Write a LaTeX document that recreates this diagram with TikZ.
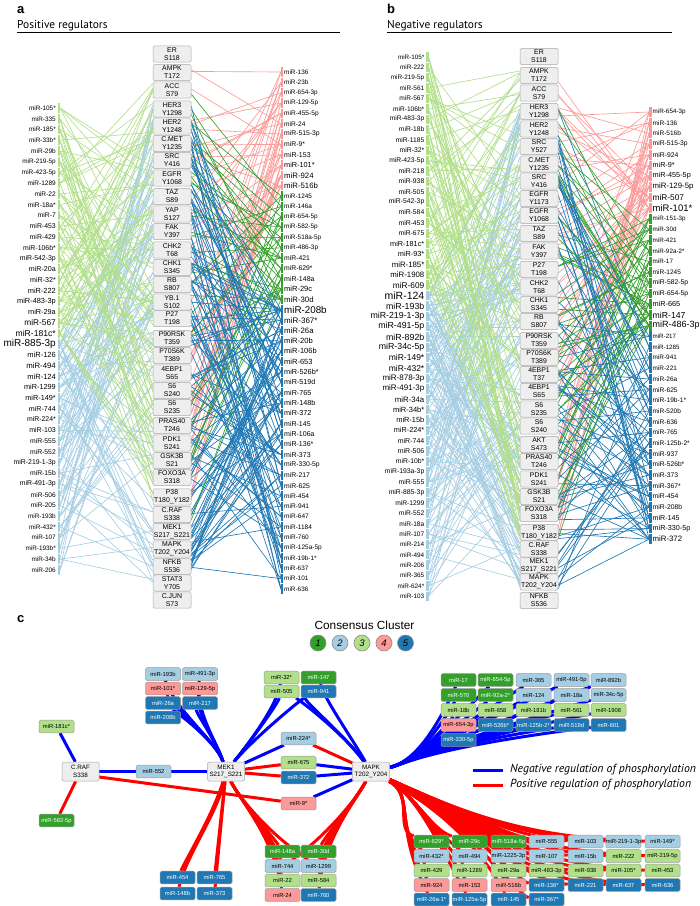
\documentclass[tikz,border=0pt]{standalone}
\usepackage{fontspec}
\setmainfont{Liberation Sans}
\newfontfamily\ttlfont{PT Sans}
\pgfdeclarelayer{bg}
\pgfsetlayers{bg,main}
\definecolor{cA}{HTML}{33A02C}
\definecolor{cB}{HTML}{A6CEE3}
\definecolor{cC}{HTML}{B2DF8A}
\definecolor{cD}{HTML}{FB9A99}
\definecolor{cE}{HTML}{1F78B4}
\definecolor{boxfl}{HTML}{EEEEEE}
\definecolor{boxln}{HTML}{A8A8A8}
\definecolor{negc}{HTML}{0000FF}
\definecolor{posc}{HTML}{FF0000}
\colorlet{cc1}{cA}\colorlet{cc2}{cB}\colorlet{cc3}{cC}\colorlet{cc4}{cD}\colorlet{cc5}{cE}
\colorlet{tc1}{white}\colorlet{tc2}{black}\colorlet{tc3}{black}\colorlet{tc4}{black}\colorlet{tc5}{white}
% ---- lists ----
\def\aKin{1/ER/S118/54, 2/AMPK/T172/72.5, 3/ACC/S79/90, 4/HER3/Y1298/109, 5/HER2/Y1248/126, 6/C.MET/Y1235/143.5, 7/SRC/Y416/160.5, 8/EGFR/Y1068/178, 9/TAZ/S89/196.5, 10/YAP/S127/214, 11/FAK/Y397/231.5, 12/CHK2/T68/250, 13/CHK1/S345/267.5, 14/RB/S807/284.5, 15/YB.1/S102/302, 16/P27/T198/318.5, 17/P90RSK/T359/338.5, 18/P70S6K/T389/355.5, 19/4EBP1/S65/373, 20/S6/S240/390.5, 21/S6/S235/407.5, 22/PRAS40/T246/425.5, 23/PDK1/S241/443, 24/GSK3B/S21/460.5, 25/FOXO3A/S318/477.5, 26/P38/T180\_Y182/497, 27/C.RAF/S338/514.5, 28/MEK1/S217\_S221/531.5, 29/MAPK/T202\_Y204/549, 30/NFKB/S536/566.5, 31/STAT3/Y705/583, 32/C.JUN/S73/600}
\def\bKin{1/ER/S118/56.5, 2/AMPK/T172/75.5, 3/ACC/S79/93, 4/HER3/Y1298/111.5, 5/HER2/Y1248/129, 6/SRC/Y527/146.5, 7/C.MET/Y1235/164, 8/SRC/Y416/181, 9/EGFR/Y1173/198.5, 10/EGFR/Y1068/215.5, 11/TAZ/S89/233.5, 12/FAK/Y397/251, 13/P27/T198/269.5, 14/CHK2/T68/287, 15/CHK1/S345/304.5, 16/RB/S807/321.5, 17/P90RSK/T359/340.5, 18/P70S6K/T389/357.5, 19/4EBP1/T37/374.5, 20/4EBP1/S65/391.5, 21/S6/S235/409, 22/S6/S240/426, 23/AKT/S473/444.5, 24/PRAS40/T246/461.5, 25/PDK1/S241/479, 26/GSK3B/S21/496.5, 27/FOXO3A/S318/513.5, 28/P38/T180\_Y182/532.5, 29/C.RAF/S338/549, 30/MEK1/S217\_S221/565.5, 31/MAPK/T202\_Y204/582, 32/NFKB/S536/600.5}
\def\aLB{miR-885-3p/10/12, miR-126/7.5/6, miR-494/7.8/7, miR-124/7.5/6, miR-1299/7.3/6, miR-149*/7.3/6, miR-744/7.1/5, miR-224*/6.9/5, miR-103/7/5, miR-555/6.8/5, miR-552/6.8/5, miR-219-1-3p/6.9/5, miR-15b/6.8/4, miR-491-3p/6.9/5, miR-506/6.6/4, miR-205/6.6/4, miR-193b/6.4/4, miR-432*/6.4/4, miR-107/6.4/4, miR-193b*/6.4/3, miR-34b/6.4/3, miR-206/6.4/3}
\def\aLG{miR-105*/6.4/4, miR-335/6.4/4, miR-185*/6.4/4, miR-33b*/6.4/4, miR-29b/6.5/4, miR-219-5p/6.4/4, miR-423-5p/6.5/4, miR-1289/6.5/4, miR-22/6.6/4, miR-18a*/6.7/4, miR-7/6.8/4, miR-453/6.9/5, miR-429/6.9/5, miR-106b*/6.9/5, miR-542-3p/6.9/5, miR-20a/7.1/5, miR-32*/7.1/5, miR-222/7.4/6, miR-483-3p/7.4/6, miR-29a/7.3/6, miR-567/8.3/8, miR-181c*/8.6/9}
\def\aRR{miR-136/6.4/3, miR-23b/6.4/3, miR-654-3p/6.4/3, miR-129-5p/6.5/4, miR-455-5p/6.6/4, miR-24/6.6/4, miR-515-3p/6.8/4, miR-9*/6.8/4, miR-153/7/4, miR-101*/7.3/5, miR-924/7.8/6, miR-516b/7.8/6}
\def\aRG{miR-1245/6.4/3, miR-146a/6.4/3, miR-654-5p/6.4/4, miR-582-5p/6.4/4, miR-518a-5p/6.4/4, miR-486-3p/6.5/4, miR-421/6.8/4, miR-629*/6.8/4, miR-148a/7/5, miR-29c/7.5/5, miR-30d/7.8/6}
\def\aRB{miR-208b/9.8/12, miR-367*/8/7, miR-26a/7.8/6, miR-20b/7.6/6, miR-106b/7.5/5, miR-653/7.5/5, miR-526b*/7.3/5, miR-519d/7.2/5, miR-765/7.2/5, miR-148b/7.2/5, miR-372/7.2/5, miR-145/7/5, miR-106a/7/5, miR-136*/7/4, miR-373/7/4, miR-330-5p/6.8/4, miR-217/6.8/4, miR-625/6.8/4, miR-454/6.6/3, miR-941/6.6/3, miR-647/6.5/3, miR-1184/6.5/3, miR-760/6.5/3, miR-125a-5p/6.5/3, miR-19b-1*/6.4/3, miR-637/6.4/3, miR-101/6.4/3, miR-636/6.4/3}
\def\bLB{miR-124/10.5/12, miR-193b/8.8/9, miR-219-1-3p/8.8/9, miR-491-5p/8.8/9, miR-892b/8.8/9, miR-34c-5p/8.8/9, miR-149*/8.5/8, miR-432*/8.5/8, miR-878-3p/8/7, miR-491-3p/8/7, miR-34a/7.8/7, miR-34b*/7.5/6, miR-15b/7.4/6, miR-224*/7.3/6, miR-744/7/5, miR-506/7/5, miR-10b*/6.8/5, miR-193a-3p/6.8/5, miR-555/6.8/5, miR-885-3p/6.8/5, miR-1299/6.7/4, miR-552/6.7/4, miR-18a/6.6/4, miR-107/6.6/4, miR-214/6.4/3, miR-494/6.4/3, miR-206/6.4/3, miR-365/6.4/3, miR-624*/6.4/3, miR-103/6.4/3}
\def\bLG{miR-105*/6.3/4, miR-222/6.4/4, miR-219-5p/6.4/4, miR-561/6.5/4, miR-567/6.6/4, miR-106b*/6.6/4, miR-483-3p/6.6/4, miR-18b/6.7/4, miR-1185/6.7/4, miR-32*/6.8/4, miR-423-5p/6.7/4, miR-218/6.8/4, miR-938/6.8/4, miR-505/6.8/4, miR-542-3p/6.8/5, miR-584/6.8/5, miR-453/6.8/5, miR-675/6.8/5, miR-181c*/7.3/5, miR-93*/7.3/5, miR-185*/7.8/6, miR-1908/7.8/6, miR-609/8.3/7}
\def\bRR{miR-654-3p/6.3/4, miR-136/6.5/4, miR-516b/6.5/4, miR-515-3p/6.7/4, miR-924/6.8/5, miR-9*/7.2/5, miR-455-5p/7.3/6, miR-129-5p/7.8/6, miR-507/8.3/7, miR-101*/9.5/9}
\def\bRG{miR-151-3p/6.3/4, miR-30d/6.3/4, miR-421/6.3/4, miR-92a-2*/6.3/4, miR-17/6.3/4, miR-1245/6.5/4, miR-582-5p/6.8/5, miR-654-5p/6.8/5, miR-665/7.3/6, miR-147/8.7/9, miR-486-3p/9/10}
\def\bRB{miR-217/6.2/3, miR-1285/6.2/3, miR-941/6.4/3, miR-221/6.4/3, miR-26a/6.5/4, miR-625/6.6/4, miR-19b-1*/6.6/4, miR-520b/6.5/4, miR-636/6.6/4, miR-765/6.6/4, miR-125b-2*/6.6/4, miR-937/6.7/4, miR-526b*/6.7/4, miR-373/6.7/4, miR-367*/6.7/4, miR-454/6.8/4, miR-208b/6.8/5, miR-145/7.1/5, miR-330-5p/7.2/6, miR-372/7.8/7}
\def\cTL{tl1/163/674/2/miR-193b, tl2/200/674/2/miR-491-3p, tl3/163/688.5/4/miR-101*, tl4/200/688.5/4/miR-129-5p, tl5/163/703/5/miR-26a, tl6/200/703/5/miR-217, tl7/163/717.5/5/miR-208b}
\def\cUR{ur1/458.5/680/1/miR-17, ur2/458.5/695/1/miR-570, ur3/458.5/710/3/miR-18b, ur4/458.5/725/4/miR-654-3p, ur5/458.5/740/5/miR-330-5p, ur6/495.5/680/1/miR-654-5p, ur7/495.5/695/1/miR-92a-2*, ur8/495.5/710/3/miR-658, ur9/495.5/725/5/miR-526b*, ur10/533.5/680/2/miR-365, ur11/533.5/695/2/miR-124, ur12/533.5/710/3/miR-181b, ur13/533.5/725/5/miR-125b-2*, ur14/571.5/680/2/miR-491-5p, ur15/571.5/695/2/miR-18a, ur16/571.5/710/3/miR-561, ur17/571.5/725/5/miR-519d, ur18/608.5/680/2/miR-892b, ur19/608.5/695/2/miR-34c-5p, ur20/608.5/710/3/miR-1908, ur21/608.5/725/5/miR-601}
\def\cQ{q1/431.5/841.5/1/miR-629*, q2/431.5/856/2/miR-432*, q3/431.5/870.5/3/miR-429, q4/431.5/885/4/miR-924, q5/431.5/899.5/5/miR-26a-1*, q6/469.5/841.5/1/miR-29c, q7/469.5/856/2/miR-494, q8/469.5/870.5/3/miR-1289, q9/469.5/885/4/miR-153, q10/469.5/899.5/5/miR-125a-5p, q11/508.5/841.5/1/miR-518a-5p, q12/508.5/856/2/miR-1225-3p, q13/508.5/870.5/3/miR-29a, q14/508.5/885/4/miR-516b, q15/508.5/899.5/5/miR-145, q16/546.5/841.5/2/miR-555, q17/546.5/856/2/miR-107, q18/546.5/870.5/3/miR-483-3p, q19/546.5/885/5/miR-136*, q20/546.5/899.5/5/miR-367*, q21/585.5/841.5/2/miR-103, q22/585.5/856/2/miR-15b, q23/585.5/870.5/3/miR-938, q24/585.5/885/5/miR-221, q25/623.5/841.5/2/miR-219-1-3p, q26/623.5/856/3/miR-222, q27/623.5/870.5/3/miR-105*, q28/623.5/885/5/miR-637, q29/662.5/841.5/2/miR-149*, q30/662.5/856/3/miR-219-5p, q31/662.5/870.5/3/miR-453, q32/662.5/885/5/miR-636}
\begin{document}
\begin{tikzpicture}[x=1pt,y=-1pt,
  kin/.style={draw=boxln, fill=boxfl, rounded corners=1.5pt, minimum width=38pt, minimum height=16.3pt, inner sep=0pt, align=center, font=\fontsize{6.9}{7.8}\selectfont, line width=0.5pt},
  hub/.style={kin, minimum width=37pt, minimum height=19pt, font=\fontsize{6.3}{7.6}\selectfont},
  lab/.style={inner sep=0pt},
  lnk/.style={line width=0.65pt},
  cbox/.style={draw=black!40, rounded corners=1.5pt, minimum width=35pt, minimum height=12.8pt, inner sep=0pt, font=\fontsize{5.8}{6}\selectfont, line width=0.5pt},
  cl/.style={cbox, fill=cc#1, text=tc#1},
  negreg/.style={draw=negc, line width=3pt},
  posreg/.style={draw=posc, line width=3pt},
  clus/.style={circle, draw=black!45, line width=0.6pt, minimum size=16pt, inner sep=0pt, font=\fontsize{9.5}{9.5}\selectfont\itshape},
  ]
\useasboundingbox (0,0) rectangle (700,906);
\pgfmathsetseed{7}

% ---------- headers ----------
\node[anchor=base west, inner sep=0pt, font=\fontsize{13}{13}\selectfont\bfseries] (la) at (17,13.3) {a};
\node[anchor=base west, inner sep=0pt, font=\ttlfont\fontsize{11.4}{12}\selectfont] (ta) at (17,28.5) {Positive regulators};
\draw[line width=0.8pt] (17,32) -- (340,32);
\node[anchor=base west, inner sep=0pt, font=\fontsize{13}{13}\selectfont\bfseries] (lb) at (387,13.3) {b};
\node[anchor=base west, inner sep=0pt, font=\ttlfont\fontsize{11.4}{12}\selectfont] (tb) at (387,28.5) {Negative regulators};
\draw[line width=0.8pt] (387,32) -- (672,32);

% ---------- nodes of panels a and b ----------
\foreach \n/\ta/\tb/\y in \aKin \node[kin] (pa\n) at (172,\y) {\ta\\\tb};
\foreach \n/\ta/\tb/\y in \bKin \node[kin] (pb\n) at (539,\y) {\ta\\\tb};

\foreach \t/\s/\d [count=\i from 23] in \aLB {
  \pgfmathsetmacro\yy{108+(\i-1)*10.74}
  \node[lab, anchor=east, font=\fontsize{\s}{\s}\selectfont] (al\i) at (56,\yy) {\t};
  \fill[cB] ([xshift=1.5pt,yshift=-4.9pt]al\i.east) rectangle ([xshift=4pt,yshift=4.9pt]al\i.east);}
\foreach \t/\s/\d [count=\i from 1] in \aLG {
  \pgfmathsetmacro\yy{108+(\i-1)*10.74}
  \node[lab, anchor=east, font=\fontsize{\s}{\s}\selectfont] (al\i) at (56,\yy) {\t};
  \fill[cC] ([xshift=1.5pt,yshift=-4.9pt]al\i.east) rectangle ([xshift=4pt,yshift=4.9pt]al\i.east);}
\foreach \t/\s/\d [count=\i from 1] in \aRR {
  \pgfmathsetmacro\yy{72+(\i-1)*10.34}
  \node[lab, anchor=west, font=\fontsize{\s}{\s}\selectfont] (ar\i) at (284,\yy) {\t};
  \fill[cD] ([xshift=-3pt,yshift=-4.7pt]ar\i.west) rectangle ([xshift=-0.6pt,yshift=4.7pt]ar\i.west);}
\foreach \t/\s/\d [count=\i from 13] in \aRG {
  \pgfmathsetmacro\yy{72+(\i-1)*10.34}
  \node[lab, anchor=west, font=\fontsize{\s}{\s}\selectfont] (ar\i) at (284,\yy) {\t};
  \fill[cA] ([xshift=-3pt,yshift=-4.7pt]ar\i.west) rectangle ([xshift=-0.6pt,yshift=4.7pt]ar\i.west);}
\foreach \t/\s/\d [count=\i from 24] in \aRB {
  \pgfmathsetmacro\yy{72+(\i-1)*10.34}
  \node[lab, anchor=west, font=\fontsize{\s}{\s}\selectfont] (ar\i) at (284,\yy) {\t};
  \fill[cE] ([xshift=-3pt,yshift=-4.7pt]ar\i.west) rectangle ([xshift=-0.6pt,yshift=4.7pt]ar\i.west);}

\foreach \t/\s/\d [count=\i from 24] in \bLB {
  \pgfmathsetmacro\yy{57+(\i-1)*10.37}
  \node[lab, anchor=east, font=\fontsize{\s}{\s}\selectfont] (bl\i) at (424.5,\yy) {\t};
  \fill[cB] ([xshift=1.5pt,yshift=-4.7pt]bl\i.east) rectangle ([xshift=4pt,yshift=4.7pt]bl\i.east);}
\foreach \t/\s/\d [count=\i from 1] in \bLG {
  \pgfmathsetmacro\yy{57+(\i-1)*10.37}
  \node[lab, anchor=east, font=\fontsize{\s}{\s}\selectfont] (bl\i) at (424.5,\yy) {\t};
  \fill[cC] ([xshift=1.5pt,yshift=-4.7pt]bl\i.east) rectangle ([xshift=4pt,yshift=4.7pt]bl\i.east);}
\foreach \t/\s/\d [count=\i from 1] in \bRR {
  \pgfmathsetmacro\yy{112+(\i-1)*10.68}
  \node[lab, anchor=west, font=\fontsize{\s}{\s}\selectfont] (br\i) at (652.5,\yy) {\t};
  \fill[cD] ([xshift=-3.5pt,yshift=-4.9pt]br\i.west) rectangle ([xshift=-1pt,yshift=4.9pt]br\i.west);}
\foreach \t/\s/\d [count=\i from 11] in \bRG {
  \pgfmathsetmacro\yy{112+(\i-1)*10.68}
  \node[lab, anchor=west, font=\fontsize{\s}{\s}\selectfont] (br\i) at (652.5,\yy) {\t};
  \fill[cA] ([xshift=-3.5pt,yshift=-4.9pt]br\i.west) rectangle ([xshift=-1pt,yshift=4.9pt]br\i.west);}
\foreach \t/\s/\d [count=\i from 22] in \bRB {
  \pgfmathsetmacro\yy{112+(\i-1)*10.68}
  \node[lab, anchor=west, font=\fontsize{\s}{\s}\selectfont] (br\i) at (652.5,\yy) {\t};
  \fill[cE] ([xshift=-3.5pt,yshift=-4.9pt]br\i.west) rectangle ([xshift=-1pt,yshift=4.9pt]br\i.west);}

% ---------- panel c nodes ----------
\node[anchor=base west, inner sep=0pt, font=\fontsize{13}{13}\selectfont\bfseries] (lc) at (17,622) {c};
\node[inner sep=0pt, font=\fontsize{11.8}{12}\selectfont] (cct) at (364.5,625) {Consensus Cluster};
\node[clus, fill=cA] (k1) at (318,643) {1};
\node[clus, fill=cB] (k2) at (340,643) {2};
\node[clus, fill=cC] (k3) at (362,643) {3};
\node[clus, fill=cD] (k4) at (384,643) {4};
\node[clus, fill=cE] (k5) at (405.5,643) {5};

\node[hub] (craf) at (80.5,771.5) {C.RAF\\S338};
\node[hub] (mek) at (226,771.5) {MEK1\\S217\_S221};
\node[hub] (mapk) at (371,771.5) {MAPK\\T202\_Y204};

\node[cl=3] (m181) at (56.5,726.5) {miR-181c*};
\node[cl=1] (m582) at (56.5,820.5) {miR-582-5p};
\node[cl=2] (m552) at (153.5,771.5) {miR-552};
\node[cl=2] (m224) at (298.5,738.5) {miR-224*};
\node[cl=3] (m675) at (298.5,762.5) {miR-675};
\node[cl=5] (m372) at (298.5,777.5) {miR-372};
\node[cl=4] (m9) at (298.5,803.5) {miR-9*};

\foreach \nm/\x/\y/\c/\t in \cTL \node[cl=\c] (\nm) at (\x,\y) {\t};
\foreach \nm/\x/\y/\c/\t in {tm1/281.5/677.5/3/miR-32*, tm2/318.5/677.5/1/miR-147, tm3/281.5/691.5/3/miR-505, tm4/318.5/691.5/5/miR-941}
  \node[cl=\c] (\nm) at (\x,\y) {\t};
\foreach \nm/\x/\y/\c/\t in {lo1/177.5/877.5/5/miR-454, lo2/214.5/877.5/5/miR-765, lo3/177.5/893.5/5/miR-148b, lo4/214.5/893.5/5/miR-373}
  \node[cl=\c] (\nm) at (\x,\y) {\t};
\foreach \nm/\x/\y/\c/\t in {bm1/282.5/851.5/1/miR-148a, bm2/318.5/851.5/1/miR-30d, bm3/282.5/866/2/miR-744, bm4/318.5/866/2/miR-1299, bm5/282.5/880.5/3/miR-22, bm6/318.5/880.5/3/miR-584, bm7/282.5/895/4/miR-24, bm8/318.5/895/5/miR-760}
  \node[cl=\c] (\nm) at (\x,\y) {\t};
\foreach \nm/\x/\y/\c/\t in \cUR \node[cl=\c] (\nm) at (\x,\y) {\t};
\foreach \nm/\x/\y/\c/\t in \cQ \node[cl=\c] (\nm) at (\x,\y) {\t};

% legend
\node[anchor=west, inner sep=0pt, font=\ttlfont\itshape\fontsize{11.7}{12}\selectfont] (lgn) at (510,770) {Negative regulation of phosphorylation};
\node[anchor=west, inner sep=0pt, font=\ttlfont\itshape\fontsize{11.7}{12}\selectfont] (lgp) at (510,785) {Positive regulation of phosphorylation};
\draw[negreg] ([xshift=-37pt]lgn.west) -- ([xshift=-7pt]lgn.west);
\draw[posreg] ([xshift=-37pt]lgp.west) -- ([xshift=-7pt]lgp.west);

% ================= all connectors, behind =================
\begin{pgfonlayer}{bg}
% panel a
\foreach \t/\s/\d [count=\i from 23] in \aLB {
  \foreach \k in {1,...,\d}{
    \pgfmathtruncatemacro\tg{random(4,31)}\pgfmathsetmacro\off{7*rand}
    \draw[lnk, cB] ([xshift=4pt]al\i.east) -- ([yshift=\off pt]pa\tg.west);}}
\foreach \t/\s/\d [count=\i from 1] in \aLG {
  \foreach \k in {1,...,\d}{
    \pgfmathtruncatemacro\tg{random(2,26)}\pgfmathsetmacro\off{7*rand}
    \draw[lnk, cC] ([xshift=4pt]al\i.east) -- ([yshift=\off pt]pa\tg.west);}}
\foreach \t/\s/\d [count=\i from 1] in \aRR {
  \foreach \k in {1,...,\d}{
    \pgfmathtruncatemacro\tg{random(2,26)}\pgfmathsetmacro\off{7*rand}
    \draw[lnk, cD] ([xshift=-3pt]ar\i.west) -- ([yshift=\off pt]pa\tg.east);}}
\foreach \t/\s/\d [count=\i from 13] in \aRG {
  \foreach \k in {1,...,\d}{
    \pgfmathtruncatemacro\tg{random(3,27)}\pgfmathsetmacro\off{7*rand}
    \draw[lnk, cA] ([xshift=-3pt]ar\i.west) -- ([yshift=\off pt]pa\tg.east);}}
\foreach \t/\s/\d [count=\i from 24] in \aRB {
  \foreach \k in {1,...,\d}{
    \pgfmathtruncatemacro\tg{random(4,30)}\pgfmathsetmacro\off{7*rand}
    \draw[lnk, cE] ([xshift=-3pt]ar\i.west) -- ([yshift=\off pt]pa\tg.east);}}
% panel b
\foreach \t/\s/\d [count=\i from 24] in \bLB {
  \foreach \k in {1,...,\d}{
    \pgfmathtruncatemacro\tg{random(4,31)}\pgfmathsetmacro\off{7*rand}
    \draw[lnk, cB] ([xshift=4pt]bl\i.east) -- ([yshift=\off pt]pb\tg.west);}}
\foreach \t/\s/\d [count=\i from 1] in \bLG {
  \foreach \k in {1,...,\d}{
    \pgfmathtruncatemacro\tg{random(2,28)}\pgfmathsetmacro\off{7*rand}
    \draw[lnk, cC] ([xshift=4pt]bl\i.east) -- ([yshift=\off pt]pb\tg.west);}}
\foreach \t/\s/\d [count=\i from 1] in \bRR {
  \foreach \k in {1,...,\d}{
    \pgfmathtruncatemacro\tg{random(2,28)}\pgfmathsetmacro\off{7*rand}
    \draw[lnk, cD] ([xshift=-3.5pt]br\i.west) -- ([yshift=\off pt]pb\tg.east);}}
\foreach \t/\s/\d [count=\i from 11] in \bRG {
  \foreach \k in {1,...,\d}{
    \pgfmathtruncatemacro\tg{random(3,28)}\pgfmathsetmacro\off{7*rand}
    \draw[lnk, cA] ([xshift=-3.5pt]br\i.west) -- ([yshift=\off pt]pb\tg.east);}}
\foreach \t/\s/\d [count=\i from 22] in \bRB {
  \foreach \k in {1,...,\d}{
    \pgfmathtruncatemacro\tg{random(4,31)}\pgfmathsetmacro\off{7*rand}
    \draw[lnk, cE] ([xshift=-3.5pt]br\i.west) -- ([yshift=\off pt]pb\tg.east);}}
% panel c
\draw[negreg] (m181) -- (craf);
\draw[posreg] (craf) -- (m582);
\draw[negreg] (craf) -- (m552);
\draw[negreg] (m552) -- (mek);
\draw[posreg] ([yshift=-3pt]craf.center) -- (m9);
\draw[negreg] (m9) -- (mapk);
\draw[negreg] (mek) -- (m224);
\draw[posreg] (m224) -- (mapk);
\draw[posreg] (mek) -- (m675);
\draw[posreg] (mek) -- (m372);
\draw[negreg] (m675) -- (mapk);
\draw[negreg] (m372) -- (mapk);
\foreach \nm/\x/\y/\c/\t in \cTL
  \draw[negreg] (\nm) .. controls (\x/2+95,712) and (217,742) .. (mek);
\draw[negreg] (tm1) .. controls (277,705) and (250,742) .. (mek);
\draw[negreg] (tm3) .. controls (277,705) and (250,742) .. (mek);
\draw[negreg] (tm4) .. controls (300,700) and (252,740) .. (mek);
\draw[negreg] (tm4) .. controls (302,700) and (345,735) .. (mapk);
\draw[negreg] (tm2) .. controls (325,700) and (350,735) .. (mapk);
\draw[negreg] (tm3) .. controls (300,700) and (345,735) .. (mapk);
\draw[posreg] (mek) .. controls (214,812) and (190,852) .. (lo1);
\draw[posreg] (mek) .. controls (218,812) and (186,856) .. (lo3);
\draw[posreg] (mek) -- (lo2);
\draw[posreg] (mek) -- (lo4);
\foreach \nm in {bm1,bm3,bm5,bm7,bm4}
  \draw[posreg] (mek) .. controls (240,800) and (274,838) .. (\nm);
\foreach \nm in {bm2,bm4,bm6,bm8,bm3}
  \draw[posreg] (mapk) .. controls (356,800) and (324,838) .. (\nm);
\foreach \nm/\x/\y/\c/\t in \cUR
  \draw[negreg] (mapk) .. controls (405,764) and (428,748) .. (\nm);
\foreach \nm/\x/\y/\c/\t in \cQ {
  \ifdim\x pt<530pt
    \draw[posreg] (mapk) .. controls (415,795) and (\x-38,830) .. (\nm);
  \else
    \draw[posreg] (mapk) .. controls (455,808) and (518,\y-3) .. (\nm);
  \fi}
\end{pgfonlayer}
\end{tikzpicture}
\end{document}
